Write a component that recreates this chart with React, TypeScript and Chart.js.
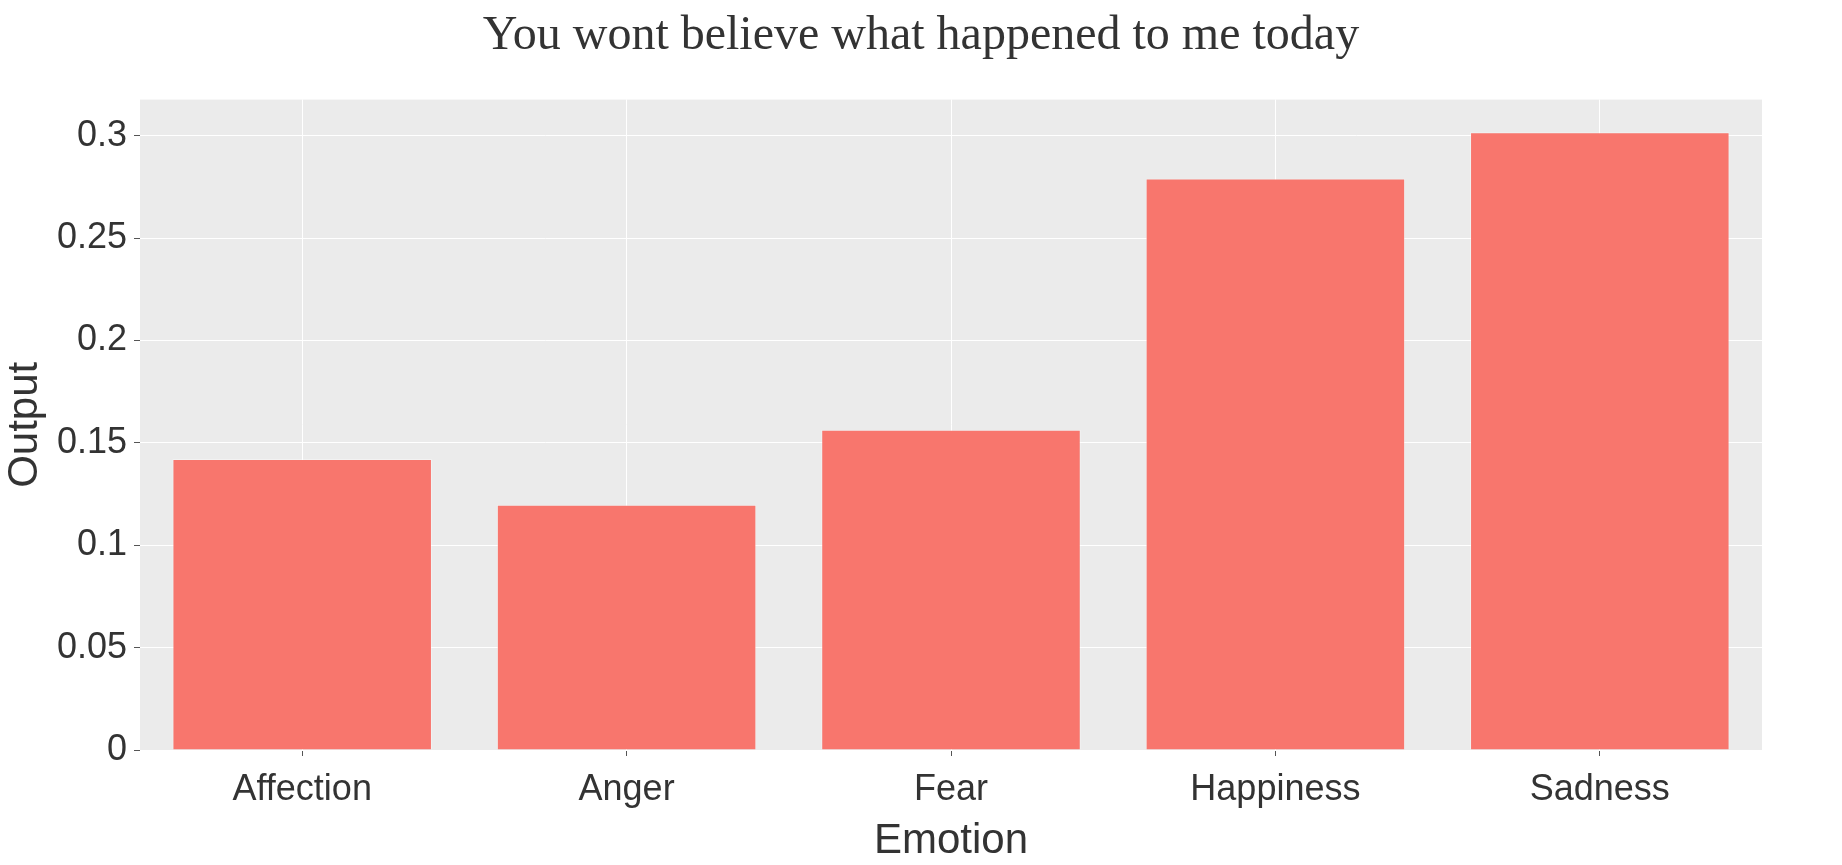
import React, { useEffect, useRef } from "react";
import { Chart, registerables } from "chart.js";

Chart.register(...registerables);

const chartTitle = "You wont believe what happened to me today";
const categories = ["Affection", "Anger", "Fear", "Happiness", "Sadness"];
const outputValues = [0.1421, 0.1198, 0.1564, 0.2791, 0.3018];
const yTickValues = [0, 0.05, 0.1, 0.15, 0.2, 0.25, 0.3];
const yTickLabels = ["0", "0.05", "0.1", "0.15", "0.2", "0.25", "0.3"];
const xAxisTitle = "Emotion";
const yAxisTitle = "Output";

const panelBackground = {
  id: "panelBackground",
  beforeDraw(chart: any) {
    const { ctx, chartArea } = chart;
    if (!chartArea) return;
    ctx.save();
    ctx.fillStyle = "#EBEBEB";
    ctx.fillRect(chartArea.left, chartArea.top, chartArea.right - chartArea.left, chartArea.bottom - chartArea.top);
    ctx.restore();
  },
};

export default function App() {
  const ref = useRef<HTMLCanvasElement | null>(null);

  useEffect(() => {
    document.body.style.margin = "0";
    const canvas = ref.current;
    if (!canvas) return;
    const chart = new Chart(canvas, {
      type: "bar",
      data: {
        labels: categories,
        datasets: [
          {
            label: yAxisTitle,
            data: outputValues,
            backgroundColor: "#F8766D",
            borderColor: "rgba(255,255,255,0.35)",
            borderWidth: 1,
            barPercentage: 0.8,
            categoryPercentage: 1,
            yAxisID: "y",
          },
        ],
      },
      plugins: [panelBackground],
      options: {
        animation: false,
        responsive: false,
        maintainAspectRatio: false,
        layout: { padding: 0 },
        plugins: {
          legend: { display: false },
          tooltip: { enabled: false },
          title: {
            display: true,
            text: chartTitle,
            color: "#333333",
            font: { family: "'Liberation Serif', serif", size: 48, weight: "normal" },
            padding: { top: 8, bottom: 34 },
          },
        },
        scales: {
          x: {
            border: { display: false },
            grid: {
              offset: false,
              color: "#FFFFFF",
              lineWidth: 1,
              drawTicks: true,
              tickLength: 6,
              tickColor: "#555555",
            },
            ticks: {
              color: "#333333",
              font: { family: "'Liberation Sans', Arial, sans-serif", size: 36 },
              padding: 12,
              maxRotation: 0,
            },
            title: {
              display: true,
              text: xAxisTitle,
              color: "#333333",
              font: { family: "'Liberation Sans', Arial, sans-serif", size: 42, lineHeight: 1.1 },
              padding: { top: 0, bottom: 0 },
            },
            afterFit(scale: any) {
              scale.height = 115;
            },
          },
          y: {
            min: 0,
            max: 0.3177,
            border: { display: false },
            grid: {
              color: "#FFFFFF",
              lineWidth: 1,
              drawTicks: true,
              tickLength: 6,
              tickColor: "#555555",
            },
            ticks: {
              color: "#333333",
              font: { family: "'Liberation Sans', Arial, sans-serif", size: 36 },
              padding: 7,
              callback(value: any) {
                const i = yTickValues.findIndex((v) => Math.abs(v - Number(value)) < 1e-9);
                return i >= 0 ? yTickLabels[i] : "";
              },
            },
            afterBuildTicks(scale: any) {
              scale.ticks = yTickValues.map((v) => ({ value: v }));
            },
            title: {
              display: true,
              text: yAxisTitle,
              color: "#333333",
              font: { family: "'Liberation Sans', Arial, sans-serif", size: 42 },
              padding: { top: 0, bottom: 0 },
            },
            afterFit(scale: any) {
              scale.width = 140;
            },
          },
          rightSpace: {
            type: "linear",
            position: "right",
            display: true,
            border: { display: false },
            grid: { display: false, drawTicks: false },
            ticks: { display: false },
            title: { display: false },
            afterFit(scale: any) {
              scale.width = 80;
            },
          },
        },
      },
    });
    return () => chart.destroy();
  }, []);

  return (
    <div style={{ width: 1842, height: 865, background: "#FFFFFF" }}>
      <canvas ref={ref} width={1842} height={865} style={{ display: "block", width: 1842, height: 865 }} />
    </div>
  );
}
